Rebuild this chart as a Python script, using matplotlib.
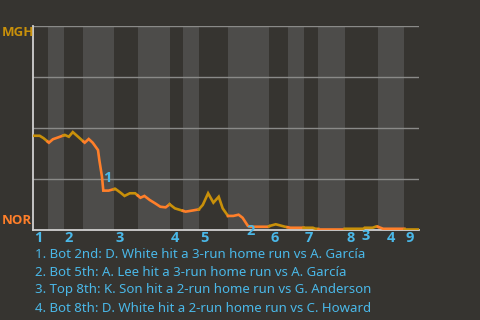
import numpy as np
import matplotlib
matplotlib.use("Agg")
import matplotlib.pyplot as plt
import matplotlib.transforms as mtransforms

# half-inning boundaries (pitch number), top 1st .. top 9th
half_edges = [0, 11, 23, 38, 61, 79, 103, 113, 125, 147, 178, 192, 204, 215, 235, 260, 280, 291]
inning_labels = ["1", "2", "3", "4", "5", "6", "7", "8", "9"]

# win probability for MGH (1 = MGH, 0 = NOR) by pitch
wp_pitch = [0, 5, 8, 12, 15, 19, 24, 27, 30, 34, 39, 42, 45, 49, 50, 52, 53, 57, 62, 66, 69, 73,
            77, 81, 84, 88, 92, 96, 100, 103, 107, 111, 115, 118, 125, 128, 132, 136, 140, 143,
            147, 151, 155, 158, 162, 164, 177, 179, 183, 186, 190, 194, 211, 213, 249, 250, 256,
            259, 262, 264, 291]
wp_value = [.462, .462, .450, .428, .445, .454, .466, .457, .480, .457, .428, .446, .428, .392,
            .343, .261, .193, .193, .202, .183, .167, .180, .180, .158, .167, .147, .131, .114,
            .111, .126, .106, .098, .090, .093, .101, .123, .180, .134, .163, .106, .069, .069,
            .075, .060, .020, .016, .016, .021, .028, .023, .016, .011, .011, .006, .006, .011,
            .011, .018, .011, .006, .006]

event_ids = ["1", "2", "3", "4"]
event_pitch = [56, 164, 251, 270]
event_label_y = [0.255, -0.005, -0.029, -0.039]
event_text = [
    "1. Bot 2nd: D. White hit a 3-run home run vs A. García",
    "2. Bot 5th: A. Lee hit a 3-run home run vs A. García",
    "3. Top 8th: K. Son hit a 2-run home run vs G. Anderson",
    "4. Bot 8th: D. White hit a 2-run home run vs C. Howard",
]

bg = "#363430"
band = "#4d4c4a"
gold = "#c8900a"
orange = "#ff7f2a"
blue = "#4ab8e8"
font = "Noto Sans"
bold_font = "Open Sans"

fig = plt.figure(figsize=(4.8, 3.2), dpi=100, facecolor=bg)
ax = fig.add_axes([33 / 480, 90 / 320, 386 / 480, 204 / 320])
ax.set_facecolor(bg)
ax.set_xlim(half_edges[0], half_edges[-1])
ax.set_ylim(0, 1)

# shade bottom halves
for i in range(1, len(half_edges) - 1, 2):
    ax.axvspan(half_edges[i], half_edges[i + 1], color=band, lw=0, zorder=0)

for g in [0.25, 0.5, 0.75, 1.0]:
    ax.axhline(g, color="#8a8a88", lw=1, zorder=1)

# line coloured by half inning
px = np.array(wp_pitch, dtype=float)
py = np.array(wp_value)
for i in range(len(half_edges) - 1):
    a, b = half_edges[i], half_edges[i + 1]
    inner = (px > a) & (px < b)
    xs = np.concatenate([[a], px[inner], [b]])
    ys = np.interp(xs, px, py)
    ax.plot(xs, ys, color=gold if i % 2 == 0 else orange, lw=1.9, zorder=3,
            solid_joinstyle="miter")

for s in ["top", "right"]:
    ax.spines[s].set_visible(False)
for s in ["left", "bottom"]:
    ax.spines[s].set_color("#d0d0d0")
    ax.spines[s].set_linewidth(1.3)
ax.set_xticks([])
ax.set_yticks([])

trans = mtransforms.blended_transform_factory(ax.transData, ax.transAxes)
for k, lab in enumerate(inning_labels):
    ax.text(half_edges[2 * k] + 1, -0.04, lab, transform=trans, ha="left", va="center",
            color=blue, fontsize=10.5, fontweight="bold", family=bold_font, clip_on=False)

for eid, ex, ey in zip(event_ids, event_pitch, event_label_y):
    ax.text(ex, ey, eid, ha="center", va="center", color=blue, fontsize=10.5,
            fontweight="bold", family=bold_font, clip_on=False, zorder=5)

fig.text(2 / 480, 1 - 33 / 320, "MGH", color=gold, fontsize=9.5, fontweight="bold",
         family=bold_font, va="center", ha="left")
fig.text(2 / 480, 1 - 221 / 320, "NOR", color=orange, fontsize=9.5, fontweight="bold",
         family=bold_font, va="center", ha="left")

for j, t in enumerate(event_text):
    fig.text(35 / 480, 1 - (254 + 18 * j) / 320, t, color=blue, fontsize=9.5,
             family=font, va="center", ha="left")

fig.savefig("out.png", dpi=100, facecolor=bg)
